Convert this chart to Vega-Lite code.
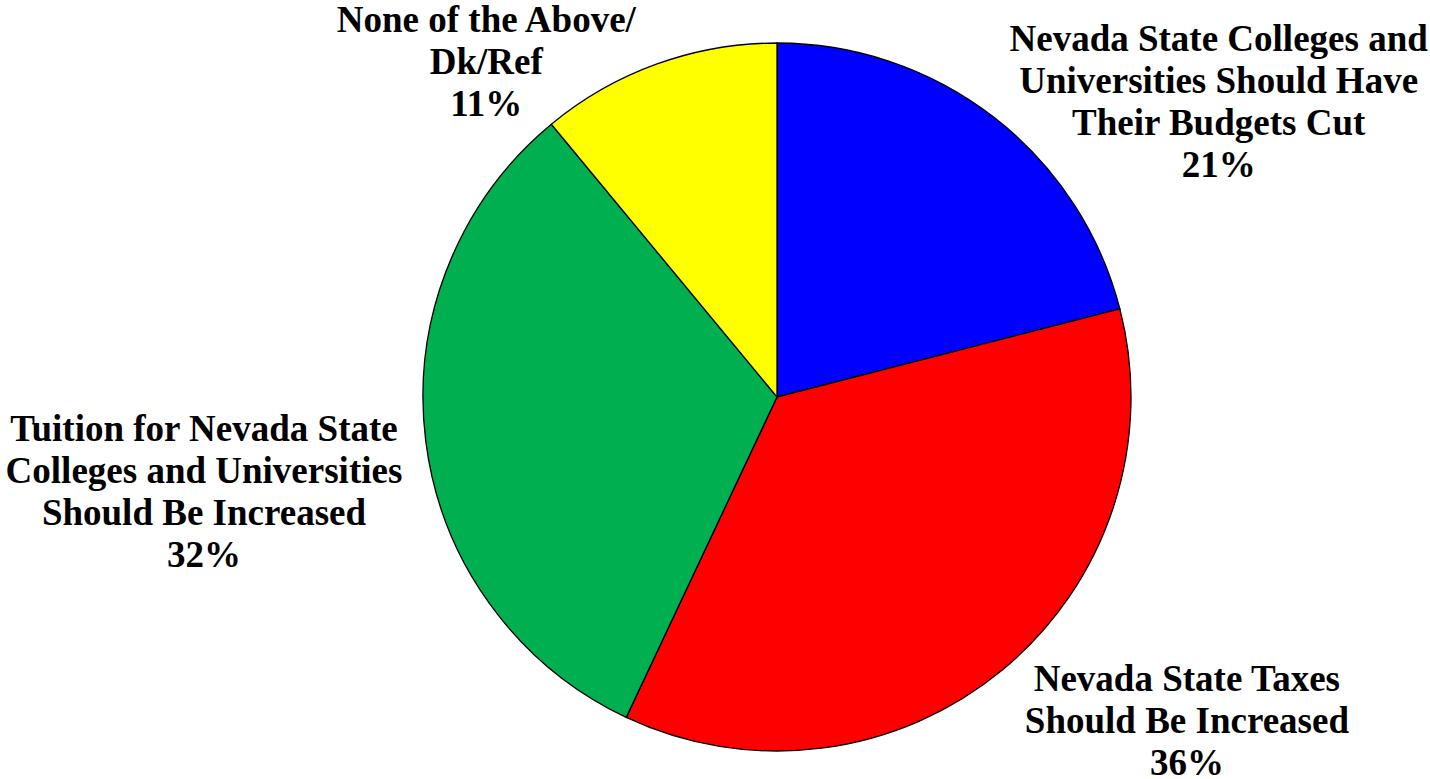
{
  "$schema": "https://vega.github.io/schema/vega-lite/v6.json",
  "width": 1306,
  "height": 766,
  "autosize": {"type": "none"},
  "padding": {"left": 124, "top": 14, "right": 0, "bottom": 0},
  "background": "white",
  "config": {"view": {"stroke": null}},
  "data": {
    "values": [
      {"rank": 1, "category": "Budgets Cut", "value": 21, "label": "Nevada State Colleges and\nUniversities Should Have\nTheir Budgets Cut\n21%"},
      {"rank": 2, "category": "Taxes Increased", "value": 36, "label": "Nevada State Taxes\nShould Be Increased\n36%"},
      {"rank": 3, "category": "Tuition Increased", "value": 32, "label": "Tuition for Nevada State\nColleges and Universities\nShould Be Increased\n32%"},
      {"rank": 4, "category": "None/Dk/Ref", "value": 11, "label": "None of the Above/\nDk/Ref\n11%"}
    ]
  },
  "encoding": {
    "theta": {"field": "value", "type": "quantitative", "stack": true},
    "order": {"field": "rank", "type": "quantitative", "sort": "ascending"}
  },
  "layer": [
    {
      "mark": {"type": "arc", "radius": 354, "stroke": "black", "strokeWidth": 1.3},
      "encoding": {
        "color": {
          "field": "category", "type": "nominal", "legend": null,
          "scale": {
            "domain": ["Budgets Cut", "Taxes Increased", "Tuition Increased", "None/Dk/Ref"],
            "range": ["#0000FF", "#FF0000", "#00B050", "#FFFF00"]
          }
        }
      }
    },
    {
      "mark": {"type": "text", "radius": 568, "thetaOffset": 0.231, "font": "Liberation Serif", "fontWeight": "bold", "fontSize": 37, "lineHeight": 42, "lineBreak": "\n", "align": "center", "baseline": "middle", "color": "black"},
      "encoding": {"text": {"condition": {"test": "datum.rank === 1", "field": "label"}, "value": ""}}
    },
    {
      "mark": {"type": "text", "radius": 498, "thetaOffset": -0.2756, "font": "Liberation Serif", "fontWeight": "bold", "fontSize": 37, "lineHeight": 42, "lineBreak": "\n", "align": "center", "baseline": "middle", "color": "black"},
      "encoding": {"text": {"condition": {"test": "datum.rank === 2", "field": "label"}, "value": ""}}
    },
    {
      "mark": {"type": "text", "radius": 574, "thetaOffset": 0.068, "font": "Liberation Serif", "fontWeight": "bold", "fontSize": 37, "lineHeight": 42, "lineBreak": "\n", "align": "center", "baseline": "middle", "color": "black"},
      "encoding": {"text": {"condition": {"test": "datum.rank === 3", "field": "label"}, "value": ""}}
    },
    {
      "mark": {"type": "text", "radius": 475, "thetaOffset": -0.313, "font": "Liberation Serif", "fontWeight": "bold", "fontSize": 37, "lineHeight": 42, "lineBreak": "\n", "align": "center", "baseline": "middle", "color": "black"},
      "encoding": {"text": {"condition": {"test": "datum.rank === 4", "field": "label"}, "value": ""}}
    }
  ]
}
